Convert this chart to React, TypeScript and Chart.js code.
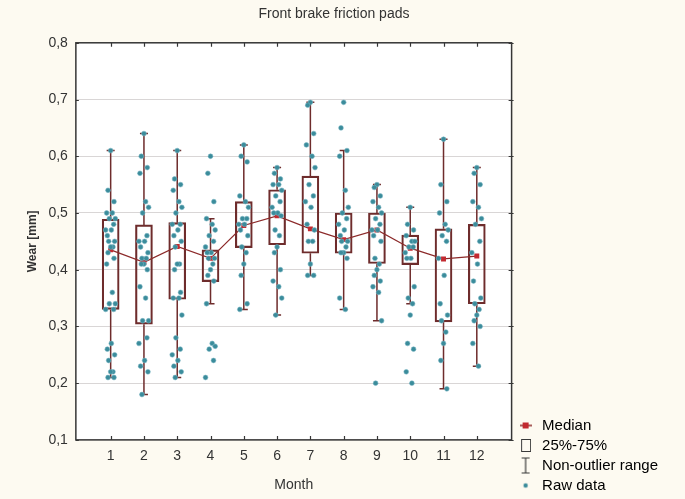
import React, { useEffect, useRef } from 'react';
import { Chart, registerables } from 'chart.js';

Chart.register(...registerables);

// ---------- data ----------
const months = [1, 2, 3, 4, 5, 6, 7, 8, 9, 10, 11, 12];
const yTicks = [0.1, 0.2, 0.3, 0.4, 0.5, 0.6, 0.7, 0.8];

const q1 = [0.33, 0.304, 0.348, 0.379, 0.439, 0.444, 0.429, 0.429, 0.411, 0.409, 0.308, 0.34];
const q3 = [0.489, 0.479, 0.483, 0.435, 0.52, 0.541, 0.565, 0.5, 0.5, 0.461, 0.472, 0.48];
const medians = [0.435, 0.413, 0.441, 0.42, 0.478, 0.495, 0.472, 0.453, 0.47, 0.438, 0.419, 0.424];
const whiskerLow = [0.21, 0.18, 0.21, 0.34, 0.33, 0.32, 0.39, 0.33, 0.31, 0.34, 0.19, 0.23];
const whiskerHigh = [0.61, 0.64, 0.61, 0.49, 0.62, 0.58, 0.695, 0.61, 0.55, 0.51, 0.63, 0.58];

const raw1 = [0.61, 0.54, 0.52, 0.5, 0.5, 0.49, 0.49, 0.48, 0.47, 0.47, 0.46, 0.45, 0.45, 0.44, 0.44, 0.43, 0.42, 0.41, 0.36, 0.34, 0.34, 0.33, 0.33, 0.27, 0.26, 0.25, 0.24, 0.22, 0.22, 0.21, 0.21];
const raw2 = [0.64, 0.6, 0.58, 0.57, 0.52, 0.51, 0.5, 0.46, 0.45, 0.45, 0.44, 0.43, 0.42, 0.42, 0.41, 0.41, 0.4, 0.37, 0.35, 0.31, 0.31, 0.28, 0.27, 0.24, 0.23, 0.22, 0.18];
const raw3 = [0.61, 0.56, 0.55, 0.54, 0.52, 0.51, 0.5, 0.48, 0.48, 0.47, 0.46, 0.45, 0.44, 0.41, 0.41, 0.4, 0.36, 0.35, 0.35, 0.32, 0.28, 0.26, 0.25, 0.24, 0.23, 0.22, 0.21];
const raw4 = [0.6, 0.57, 0.52, 0.49, 0.48, 0.47, 0.46, 0.45, 0.44, 0.43, 0.43, 0.42, 0.42, 0.41, 0.4, 0.39, 0.38, 0.34, 0.27, 0.265, 0.26, 0.24, 0.21];
const raw5 = [0.62, 0.6, 0.59, 0.53, 0.52, 0.51, 0.49, 0.49, 0.48, 0.48, 0.47, 0.46, 0.44, 0.43, 0.41, 0.39, 0.34, 0.33];
const raw6 = [0.58, 0.57, 0.56, 0.55, 0.55, 0.54, 0.53, 0.52, 0.51, 0.5, 0.5, 0.495, 0.47, 0.46, 0.44, 0.43, 0.4, 0.38, 0.37, 0.35, 0.32];
const raw7 = [0.695, 0.69, 0.64, 0.62, 0.6, 0.58, 0.55, 0.53, 0.52, 0.51, 0.48, 0.47, 0.45, 0.45, 0.41, 0.39, 0.39];
const raw8 = [0.695, 0.65, 0.61, 0.6, 0.54, 0.51, 0.5, 0.49, 0.48, 0.47, 0.46, 0.45, 0.45, 0.44, 0.43, 0.43, 0.42, 0.35, 0.33];
const raw9 = [0.55, 0.545, 0.53, 0.52, 0.51, 0.5, 0.49, 0.48, 0.47, 0.47, 0.46, 0.45, 0.42, 0.41, 0.4, 0.39, 0.38, 0.37, 0.36, 0.31, 0.2];
const raw10 = [0.51, 0.48, 0.47, 0.46, 0.45, 0.45, 0.44, 0.44, 0.43, 0.42, 0.42, 0.37, 0.35, 0.34, 0.32, 0.27, 0.26, 0.22, 0.2];
const raw11 = [0.63, 0.55, 0.52, 0.5, 0.48, 0.47, 0.46, 0.45, 0.42, 0.39, 0.34, 0.32, 0.31, 0.29, 0.27, 0.24, 0.19];
const raw12 = [0.58, 0.57, 0.55, 0.52, 0.51, 0.49, 0.48, 0.45, 0.43, 0.41, 0.38, 0.35, 0.34, 0.33, 0.32, 0.31, 0.3, 0.27, 0.23];
const rawData = [raw1, raw2, raw3, raw4, raw5, raw6, raw7, raw8, raw9, raw10, raw11, raw12];

// fixed horizontal spread pattern for raw points (in month units)
const jitter = [0, -0.08, 0.1, -0.12, 0.05, 0.14, -0.04, 0.09, -0.15, 0.02, -0.1, 0.12, -0.06, 0.07];

// ---------- styles ----------
const CREAM = '#fdfaf1';
const BOX = '#6e2c2c';
const MEDIAN_LINE = '#8c2a2a';
const MEDIAN_PT = '#c22a30';
const POINT = '#3b8c9b';
const FRAME = '#363636';
const GRID = '#d9d6d6';
const TEXT = '#333333';
const FONT = "'Liberation Sans', Arial, sans-serif";

function makeIcon(w: number, h: number, draw: (c: CanvasRenderingContext2D) => void) {
  const c = document.createElement('canvas');
  c.width = w;
  c.height = h;
  const ctx = c.getContext('2d')!;
  draw(ctx);
  return c;
}

const bgPlugin = {
  id: 'bg',
  beforeDraw(chart: any) {
    const { ctx, chartArea: a } = chart;
    ctx.save();
    ctx.fillStyle = CREAM;
    ctx.fillRect(0, 0, chart.width, chart.height);
    ctx.fillStyle = '#ffffff';
    ctx.fillRect(a.left, a.top, a.right - a.left, a.bottom - a.top);
    ctx.restore();
  },
};

const whiskerPlugin = {
  id: 'whiskers',
  beforeDatasetsDraw(chart: any) {
    const { ctx } = chart;
    const x = chart.scales.x;
    const y = chart.scales.y;
    ctx.save();
    ctx.strokeStyle = BOX;
    ctx.lineWidth = 1.5;
    months.forEach((m, i) => {
      const px = x.getPixelForValue(m);
      ctx.beginPath();
      ctx.moveTo(px, y.getPixelForValue(whiskerLow[i]));
      ctx.lineTo(px, y.getPixelForValue(q1[i]));
      ctx.moveTo(px, y.getPixelForValue(q3[i]));
      ctx.lineTo(px, y.getPixelForValue(whiskerHigh[i]));
      [whiskerLow[i], whiskerHigh[i]].forEach((v) => {
        const py = y.getPixelForValue(v);
        ctx.moveTo(px - 4, py);
        ctx.lineTo(px + 4, py);
      });
      ctx.stroke();
    });
    ctx.restore();
  },
};

const framePlugin = {
  id: 'frame',
  afterDatasetsDraw(chart: any) {
    const { ctx, chartArea: a } = chart;
    const x = chart.scales.x;
    const y = chart.scales.y;
    ctx.save();
    ctx.strokeStyle = FRAME;
    ctx.lineWidth = 1.5;
    ctx.strokeRect(a.left, a.top, a.right - a.left, a.bottom - a.top);
    ctx.beginPath();
    months.forEach((m) => {
      const px = Math.round(x.getPixelForValue(m)) + 0.5;
      ctx.moveTo(px, a.bottom);
      ctx.lineTo(px, a.bottom - 4);
      ctx.moveTo(px, a.top);
      ctx.lineTo(px, a.top + 4);
    });
    yTicks.forEach((v) => {
      const py = Math.round(y.getPixelForValue(v)) + 0.5;
      ctx.moveTo(a.right + 2, py);
      ctx.lineTo(a.right - 3, py);
      ctx.moveTo(a.left, py);
      ctx.lineTo(a.left + 3, py);
    });
    ctx.lineWidth = 1.2;
    ctx.stroke();
    ctx.restore();
  },
};

export default function App() {
  const ref = useRef<HTMLCanvasElement>(null);

  useEffect(() => {
    document.body.style.margin = '0';
    document.body.style.background = CREAM;

    const iconMedian = makeIcon(12, 8, (c) => {
      c.strokeStyle = MEDIAN_LINE;
      c.lineWidth = 1.5;
      c.beginPath();
      c.moveTo(0, 4);
      c.lineTo(12, 4);
      c.stroke();
      c.fillStyle = MEDIAN_PT;
      c.fillRect(3, 1, 6, 6);
    });
    const iconBox = makeIcon(11, 13, (c) => {
      c.strokeStyle = '#3a3a3a';
      c.lineWidth = 1;
      c.strokeRect(1.5, 0.5, 9, 12);
    });
    const iconRange = makeIcon(10, 17, (c) => {
      c.strokeStyle = '#3a3a3a';
      c.lineWidth = 1.2;
      c.beginPath();
      c.moveTo(1, 1);
      c.lineTo(9, 1);
      c.moveTo(5, 1);
      c.lineTo(5, 16);
      c.moveTo(1, 16);
      c.lineTo(9, 16);
      c.stroke();
    });
    const iconRaw = makeIcon(8, 8, (c) => {
      c.fillStyle = POINT;
      c.beginPath();
      c.arc(4, 4, 2.2, 0, Math.PI * 2);
      c.fill();
    });

    const scatterData: { x: number; y: number }[] = [];
    rawData.forEach((arr, mi) => {
      arr.forEach((v, i) => {
        scatterData.push({ x: months[mi] + jitter[i % jitter.length], y: v });
      });
    });

    const chart = new Chart(ref.current!, {
      type: 'bar',
      data: {
        datasets: [
          {
            type: 'scatter',
            label: 'Raw data',
            data: scatterData,
            backgroundColor: POINT,
            borderColor: 'rgba(120,180,195,0.55)',
            borderWidth: 1,
            pointRadius: 2.4,
            order: 0,
          } as any,
          {
            type: 'line',
            label: 'Median',
            data: months.map((m, i) => ({ x: m, y: medians[i] })),
            borderColor: MEDIAN_LINE,
            borderWidth: 1.2,
            pointStyle: 'rect',
            pointRadius: 3.5,
            pointBackgroundColor: MEDIAN_PT,
            pointBorderColor: MEDIAN_PT,
            pointBorderWidth: 0,
            fill: false,
            tension: 0,
            order: 1,
          } as any,
          {
            type: 'bar',
            label: '25%-75%',
            data: months.map((m, i) => ({ x: m, y: [q1[i], q3[i]] })),
            backgroundColor: 'rgba(0,0,0,0)',
            borderColor: BOX,
            borderWidth: 1.5,
            borderSkipped: false,
            barThickness: 17,
            grouped: false,
            order: 2,
          } as any,
        ],
      },
      options: {
        responsive: false,
        animation: false,
        devicePixelRatio: 1,
        events: [],
        layout: { padding: { top: 0, right: 17, bottom: 1, left: 0 } },
        scales: {
          x: {
            type: 'linear',
            min: 0.5,
            max: 12.5,
            afterBuildTicks: (s: any) => {
              s.ticks = months.map((m) => ({ value: m }));
            },
            ticks: {
              callback: (v: any) => String(v),
              font: { family: FONT, size: 14 },
              color: TEXT,
              padding: 8,
              maxRotation: 0,
              autoSkip: false,
            },
            grid: { display: false, drawTicks: false, tickLength: 0 },
            border: { display: false },
            title: {
              display: true,
              text: 'Month',
              font: { family: FONT, size: 14 },
              color: TEXT,
              padding: { top: 4, bottom: 4.5 },
            },
          },
          y: {
            type: 'linear',
            min: 0.1,
            max: 0.8,
            afterBuildTicks: (s: any) => {
              s.ticks = yTicks.map((v) => ({ value: v }));
            },
            ticks: {
              callback: (v: any) => Number(v).toFixed(1).replace('.', ','),
              font: { family: FONT, size: 14 },
              color: TEXT,
              padding: 8,
            },
            grid: { color: GRID, lineWidth: 1, drawTicks: false, tickLength: 0 },
            border: { display: false },
            title: {
              display: true,
              text: 'Wear [mm]',
              font: { family: FONT, size: 12, weight: 'bold' },
              color: TEXT,
              padding: { top: 25, bottom: 1 },
            },
          },
        },
        plugins: {
          title: {
            display: true,
            text: 'Front brake friction pads',
            font: { family: FONT, size: 14, weight: 'normal' },
            color: TEXT,
            padding: { top: 6, bottom: 20 },
          },
          tooltip: { enabled: false },
          legend: {
            position: 'right',
            align: 'end',
            labels: {
              usePointStyle: true,
              pointStyleWidth: 18,
              boxWidth: 14,
              padding: 5,
              color: TEXT,
              font: { family: FONT, size: 15 },
              generateLabels: () => [
                { text: 'Median', pointStyle: iconMedian, fillStyle: MEDIAN_PT, strokeStyle: MEDIAN_PT, lineWidth: 0, hidden: false },
                { text: '25%-75%', pointStyle: iconBox, fillStyle: 'transparent', strokeStyle: '#333', lineWidth: 0, hidden: false },
                { text: 'Non-outlier range', pointStyle: iconRange, fillStyle: 'transparent', strokeStyle: '#333', lineWidth: 0, hidden: false },
                { text: 'Raw data', pointStyle: iconRaw, fillStyle: POINT, strokeStyle: POINT, lineWidth: 0, hidden: false },
              ] as any,
            },
          },
        },
      } as any,
      plugins: [bgPlugin, whiskerPlugin, framePlugin],
    });

    return () => chart.destroy();
  }, []);

  return (
    <canvas
      ref={ref}
      width={685}
      height={499}
      style={{ display: 'block', width: '685px', height: '499px' }}
    />
  );
}
